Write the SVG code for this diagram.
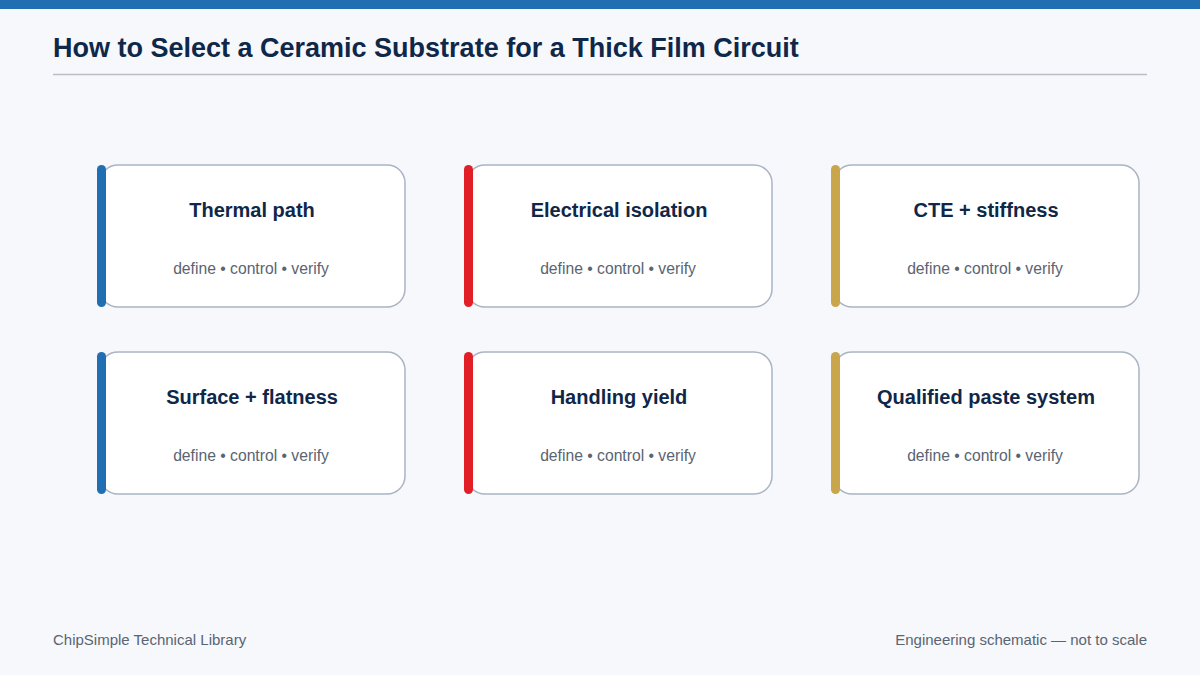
<svg xmlns="http://www.w3.org/2000/svg" width="1200" height="675" viewBox="0 0 1200 675">
<style>
.title{font-family:"Liberation Sans",Arial,sans-serif;font-weight:bold;font-size:27px;fill:#0f2748}
.card{fill:#ffffff;stroke:#a9b4c4;stroke-width:1.5}
.ct{font-family:"Liberation Sans",Arial,sans-serif;font-weight:bold;font-size:20px;fill:#0f2748;text-anchor:middle}
.cs{font-family:"Liberation Sans",Arial,sans-serif;font-size:15.7px;fill:#5a6472;text-anchor:middle}
.foot{font-family:"Liberation Sans",Arial,sans-serif;font-size:15px;fill:#5a6472}
.blue{fill:#1f6fb2}.red{fill:#e02026}.gold{fill:#c9a54b}
</style>
<rect width="1200" height="675" fill="#f6f8fc"/>
<rect width="1200" height="9" fill="#1f6fb2"/>
<text class="title" x="53" y="57">How to Select a Ceramic Substrate for a Thick Film Circuit</text>
<line x1="53" y1="74.5" x2="1147" y2="74.5" stroke="#b9bec6" stroke-width="1.5"/>
<g id="connectors"/>
<g id="n1"><rect class="card" x="100" y="165" width="305" height="142" rx="18"/><rect class="blue" x="97" y="165" width="9" height="142" rx="4.5"/><text class="ct" x="252" y="217">Thermal path</text><text class="cs" x="251" y="274">define • control • verify</text></g>
<g id="n2"><rect class="card" x="467" y="165" width="305" height="142" rx="18"/><rect class="red" x="464" y="165" width="9" height="142" rx="4.5"/><text class="ct" x="619" y="217">Electrical isolation</text><text class="cs" x="618" y="274">define • control • verify</text></g>
<g id="n3"><rect class="card" x="834" y="165" width="305" height="142" rx="18"/><rect class="gold" x="831" y="165" width="9" height="142" rx="4.5"/><text class="ct" x="986" y="217">CTE + stiffness</text><text class="cs" x="985" y="274">define • control • verify</text></g>
<g id="n4"><rect class="card" x="100" y="352" width="305" height="142" rx="18"/><rect class="blue" x="97" y="352" width="9" height="142" rx="4.5"/><text class="ct" x="252" y="404">Surface + flatness</text><text class="cs" x="251" y="461">define • control • verify</text></g>
<g id="n5"><rect class="card" x="467" y="352" width="305" height="142" rx="18"/><rect class="red" x="464" y="352" width="9" height="142" rx="4.5"/><text class="ct" x="619" y="404">Handling yield</text><text class="cs" x="618" y="461">define • control • verify</text></g>
<g id="n6"><rect class="card" x="834" y="352" width="305" height="142" rx="18"/><rect class="gold" x="831" y="352" width="9" height="142" rx="4.5"/><text class="ct" x="986" y="404">Qualified paste system</text><text class="cs" x="985" y="461">define • control • verify</text></g>
<text class="foot" x="53" y="645">ChipSimple Technical Library</text>
<text class="foot" x="1147" y="645" text-anchor="end">Engineering schematic — not to scale</text>
</svg>
